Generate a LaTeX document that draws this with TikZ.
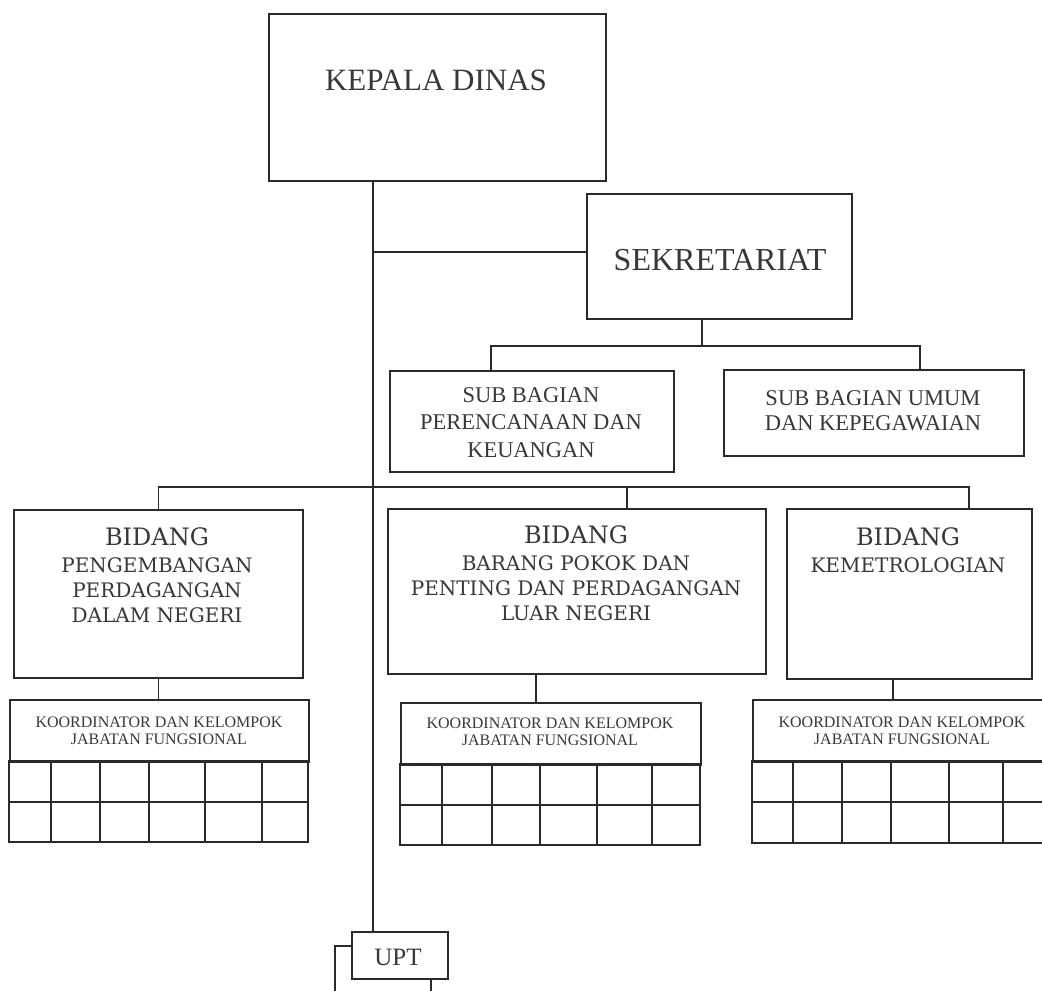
\documentclass[tikz,border=0pt]{standalone}
\usepackage{fontspec}
\setmainfont{Liberation Serif}
\newfontfamily\slab{DejaVu Serif}
\usetikzlibrary{calc}
\definecolor{ink}{HTML}{2A2A2E}
\definecolor{txt}{HTML}{38383C}
\begin{document}
\begin{tikzpicture}[x=1pt,y=-1pt,
  ln/.style={draw=ink,line width=1.5pt},
  box/.style={ln,rectangle,inner sep=0pt,anchor=north west},
  lbl/.style={text=txt,align=center,inner sep=0pt,anchor=base},
  big/.style={font=\fontsize{31}{36}\selectfont},
  mid/.style={font=\fontsize{22.5}{27.5}\selectfont},
  bid/.style={font=\slab\fontsize{20}{25}\selectfont},
  small/.style={font=\fontsize{16}{16.5}\selectfont}]
\useasboundingbox[fill=white] (0,0) rectangle (1042,991);

% boxes
\node[box,minimum width=337pt,minimum height=167pt] (kd) at (268,13) {};
\node[box,minimum width=265pt,minimum height=125pt] (sek) at (586,193) {};
\node[box,minimum width=284pt,minimum height=101pt] (sbp) at (389,370) {};
\node[box,minimum width=300pt,minimum height=86pt] (sbu) at (723,369) {};
\node[box,minimum width=289pt,minimum height=168pt] (b1) at (13,509) {};
\node[box,minimum width=378pt,minimum height=165pt] (b2) at (387,508) {};
\node[box,minimum width=245pt,minimum height=170pt] (b3) at (786,508) {};
\node[box,minimum width=96pt,minimum height=47pt] (upt) at (351,931) {};

% coordinator tables (header nodes)
\node[box,minimum width=299pt,minimum height=62pt] (k1) at (9,699) {};
\node[box,minimum width=300pt,minimum height=62pt] (k2) at (400,702) {};
\node[box,minimum width=300pt,minimum height=62pt] (k3) at (752,699) {};

% table grids
\draw[ln] (9,761) rectangle (308,842) (9,802) -- (308,802);
\foreach \c in {51,100,149,205,262} \draw[ln] (\c,761) -- (\c,842);
\draw[ln] (400,764) rectangle (700,845) (400,805) -- (700,805);
\foreach \c in {442,492,540,597,652} \draw[ln] (\c,764) -- (\c,845);
\draw[ln] (752,761) rectangle (1052,843) (752,802) -- (1052,802);
\foreach \c in {793,842,891,949,1003} \draw[ln] (\c,761) -- (\c,843);

% texts (anchor = baseline of last line)
\node[lbl,big] (kdt) at (436,90) {KEPALA DINAS};
\node[lbl,font=\fontsize{32}{38}\selectfont] (sekt) at (720,270) {SEKRETARIAT};
\node[lbl,mid] (sbpt) at (531,457) {SUB BAGIAN\\PERENCANAAN DAN\\KEUANGAN};
\node[lbl,mid,font=\fontsize{22.5}{25}\selectfont] (sbut) at (873,430) {SUB BAGIAN UMUM\\DAN KEPEGAWAIAN};
\node[lbl,bid] (b1t) at (157,622) {{\fontsize{24}{24}\selectfont BIDANG}\\[2pt]PENGEMBANGAN\\PERDAGANGAN\\DALAM NEGERI};
\node[lbl,bid] (b2t) at (576,620) {{\fontsize{24}{24}\selectfont BIDANG}\\[2pt]BARANG POKOK DAN\\PENTING DAN PERDAGANGAN\\LUAR NEGERI};
\node[lbl,bid] (b3t) at (908,572) {{\fontsize{24}{24}\selectfont BIDANG}\\[2pt]KEMETROLOGIAN};
\node[lbl,small] (k1t) at (159,744) {KOORDINATOR DAN KELOMPOK\\JABATAN FUNGSIONAL};
\node[lbl,small] (k2t) at (550,745) {KOORDINATOR DAN KELOMPOK\\JABATAN FUNGSIONAL};
\node[lbl,small] (k3t) at (902,744) {KOORDINATOR DAN KELOMPOK\\JABATAN FUNGSIONAL};
\node[lbl,font=\fontsize{25}{30}\selectfont] (uptt) at (398,965) {UPT};

% connectors
\coordinate (tx) at (373,0);
\coordinate (j1) at (373,252);
\draw[ln] (kd.south -| tx) -- (upt.north -| tx);
\draw[ln] (j1) -- (j1 -| sek.west);
\coordinate (s1) at (702,346);
\draw[ln] (sek.south -| s1) -- (s1);
\draw[ln] (sbp.north -| 491,0) |- (s1) -| (sbu.north -| 920,0);
\coordinate (bus) at (627,487);
\draw[ln] (b1.north) |- (bus) -| (b3.north -| 969,0);
\draw[ln] (bus) -- (b2.north -| bus);
\draw[ln] (b1.south) -- (b1.south |- k1.north);
\draw[ln] (b2.south -| 536,0) -- (k2.north -| 536,0);
\draw[ln] (b3.south -| 893,0) -- (k3.north -| 893,0);
\coordinate (u1) at (335,946);
\coordinate (u2) at (431,995);
\draw[ln] (u1 -| upt.west) -- (u1) -- (u1 |- u2);
\draw[ln] (upt.south -| u2) -- (u2);
\end{tikzpicture}
\end{document}
